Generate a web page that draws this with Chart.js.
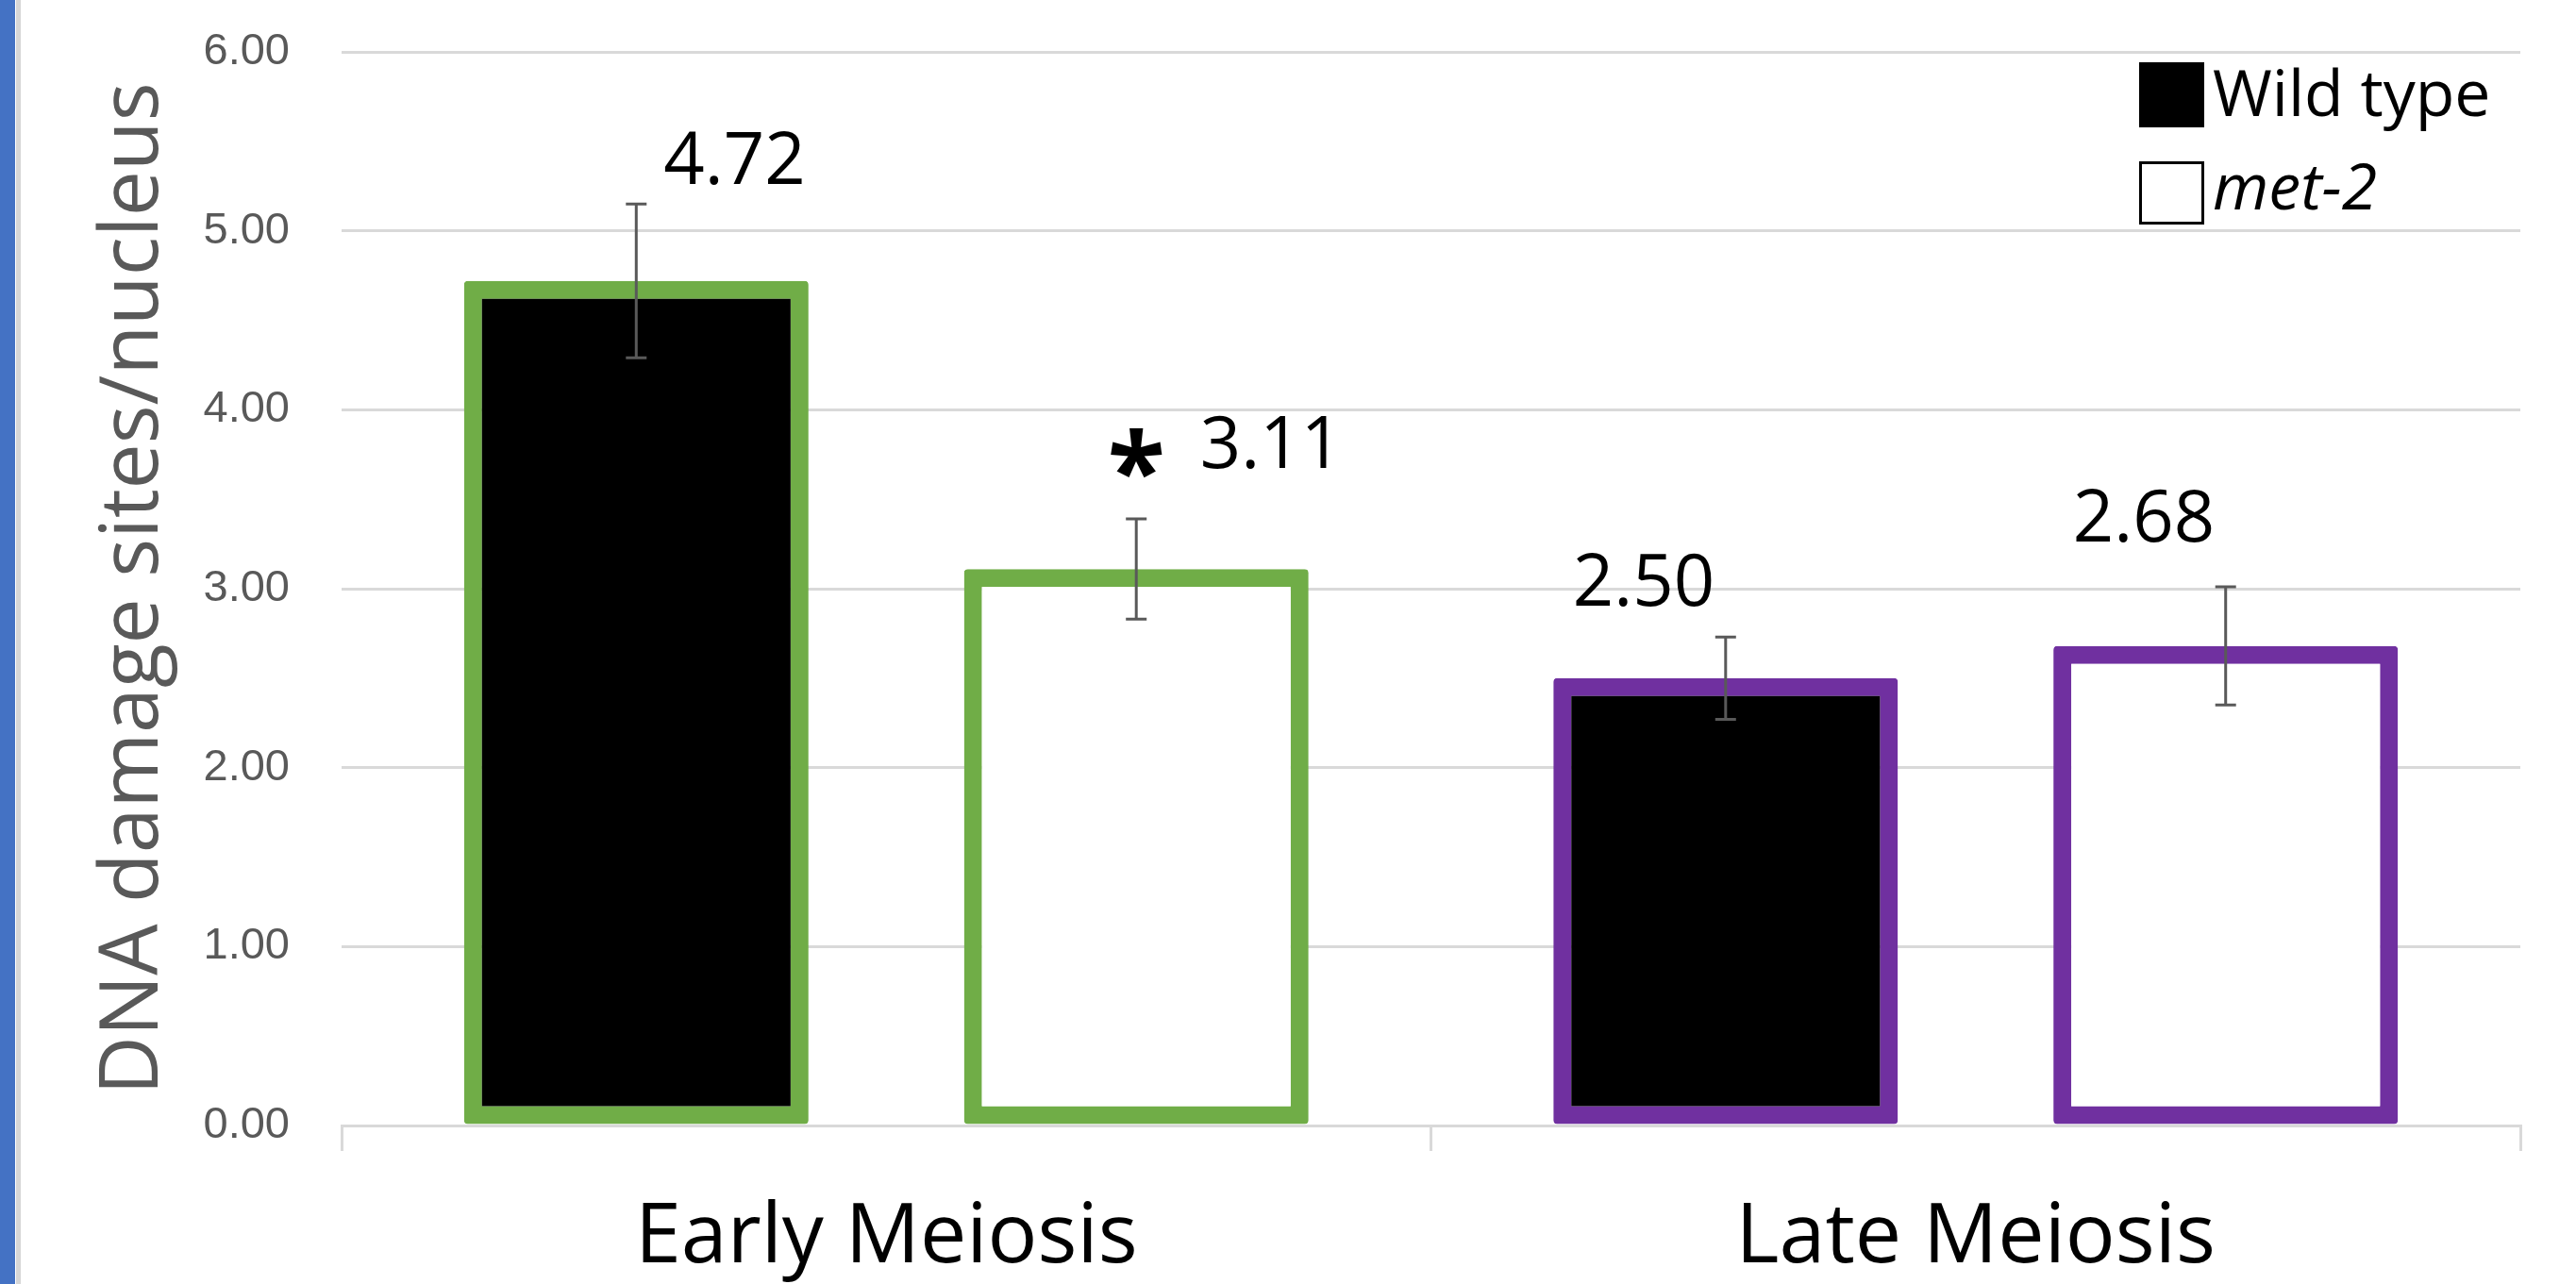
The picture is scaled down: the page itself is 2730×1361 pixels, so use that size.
<!DOCTYPE html>
<html>
<head>
<meta charset="utf-8">
<title>DNA damage sites/nucleus</title>
<script src="https://cdn.jsdelivr.net/npm/chart.js@4.4.1/dist/chart.umd.min.js"></script>
<style>
  html, body { margin: 0; padding: 0; background: #fff; }
  #grafico { display: block; }
</style>
</head>
<body>
<canvas id="grafico" width="2730" height="1361"></canvas>
<script>
// dados
var categorias = ['Early Meiosis', 'Late Meiosis'];
var series = ['Wild type', 'met-2'];
var valoresWildType = [4.72, 2.50];
var valoresMet2 = [3.11, 2.68];
var erroWildType = [0.43, 0.23];
var erroMet2 = [0.28, 0.33];
var asteriscoWildType = ['', ''];
var asteriscoMet2 = ['*', ''];
var ticksY = [0, 1, 2, 3, 4, 5, 6];

// estilo
var coresBorda = ['#70AD47', '#7030A0'];
var estiloLegenda = ['normal', 'italic'];
// deslocamento dos rotulos [serie][categoria] -> [dx, dy] em px
var deslocRotulos = [[[103, -130], [-87, -104]], [[136, -135], [-87, -138]]];
var deslocAsterisco = [0, -123];

function textoCentrado(ctx, texto, cx, cy) {
    var m = ctx.measureText(texto);
    var x = cx - (m.actualBoundingBoxRight - m.actualBoundingBoxLeft) / 2;
    var y = cy - (m.actualBoundingBoxDescent - m.actualBoundingBoxAscent) / 2;
    ctx.fillText(texto, x, y);
}

var fundo = {
    id: 'fundo',
    beforeDraw(chart) {
        var ctx = chart.ctx;
        ctx.save();
        ctx.fillStyle = '#fff';
        ctx.fillRect(0, 0, chart.width, chart.height);
        ctx.fillStyle = '#4472C4';
        ctx.fillRect(0, 0, 16, chart.height);
        ctx.fillStyle = '#d6d6d6';
        ctx.fillRect(17, 0, 5, chart.height);
        ctx.restore();
    }
};

var barrasErro = {
    id: 'barrasErro',
    afterDatasetsDraw(chart) {
        var ctx = chart.ctx;
        var y = chart.scales.y;
        var erros = [erroWildType, erroMet2];
        ctx.save();
        ctx.strokeStyle = '#595959';
        ctx.lineWidth = 3;
        chart.data.datasets.forEach(function (ds, d) {
            chart.getDatasetMeta(d).data.forEach(function (barra, i) {
                var topo = y.getPixelForValue(ds.data[i] + erros[d][i]);
                var base = y.getPixelForValue(ds.data[i] - erros[d][i]);
                ctx.beginPath();
                ctx.moveTo(barra.x, topo);
                ctx.lineTo(barra.x, base);
                ctx.moveTo(barra.x - 11, topo);
                ctx.lineTo(barra.x + 11, topo);
                ctx.moveTo(barra.x - 11, base);
                ctx.lineTo(barra.x + 11, base);
                ctx.stroke();
            });
        });
        ctx.restore();
    }
};

var rotulos = {
    id: 'rotulos',
    afterDatasetsDraw(chart) {
        var ctx = chart.ctx;
        var y = chart.scales.y;
        var asteriscos = [asteriscoWildType, asteriscoMet2];
        ctx.save();
        ctx.fillStyle = '#000';
        ctx.textAlign = 'left';
        ctx.textBaseline = 'alphabetic';
        chart.data.datasets.forEach(function (ds, d) {
            chart.getDatasetMeta(d).data.forEach(function (barra, i) {
                var py = y.getPixelForValue(ds.data[i]);
                var off = deslocRotulos[d][i];
                ctx.font = '76px "Open Sans"';
                textoCentrado(ctx, ds.data[i].toFixed(2), barra.x + off[0], py + off[1]);
                if (asteriscos[d][i]) {
                    ctx.font = 'bold 112px "Open Sans"';
                    textoCentrado(ctx, asteriscos[d][i], barra.x + deslocAsterisco[0], py + deslocAsterisco[1]);
                }
            });
        });
        ctx.restore();
    }
};

var legenda = {
    id: 'legenda',
    afterDraw(chart) {
        var ctx = chart.ctx;
        var area = chart.chartArea;
        var x = area.right - 404;
        ctx.save();
        chart.data.datasets.forEach(function (ds, d) {
            var topo = area.top + 11 + d * 105;
            if (d == 0) {
                ctx.fillStyle = '#000';
                ctx.fillRect(x, topo, 69, 69);
            } else {
                ctx.fillStyle = '#fff';
                ctx.fillRect(x, topo, 69, 67);
                ctx.strokeStyle = '#000';
                ctx.lineWidth = 3;
                ctx.strokeRect(x + 1.5, topo + 1.5, 66, 64);
            }
            ctx.fillStyle = '#000';
            ctx.font = estiloLegenda[d] + ' 68px "Open Sans"';
            ctx.textAlign = 'left';
            ctx.textBaseline = 'alphabetic';
            ctx.fillText(ds.label, x + 78, topo + 57 - d * 6);
        });
        ctx.restore();
    }
};

var ctx = document.getElementById('grafico');

new Chart(ctx, {
    type: 'bar',
    data: {
        labels: categorias,
        datasets: [
            {
                label: series[0],
                data: valoresWildType,
                backgroundColor: '#000000',
                borderColor: coresBorda,
                borderWidth: 19,
                borderSkipped: false,
                borderRadius: 4,
                categoryPercentage: 0.918,
                barPercentage: 0.689
            },
            {
                label: series[1],
                data: valoresMet2,
                backgroundColor: '#ffffff',
                borderColor: coresBorda,
                borderWidth: 19,
                borderSkipped: false,
                borderRadius: 4,
                categoryPercentage: 0.918,
                barPercentage: 0.689
            }
        ]
    },
    options: {
        responsive: false,
        animation: false,
        devicePixelRatio: 1,
        layout: { padding: { top: 55, right: 59, left: 0, bottom: 0 } },
        plugins: {
            legend: { display: false },
            tooltip: { enabled: false }
        },
        scales: {
            x: {
                grid: { drawOnChartArea: false, color: '#d9d9d9', lineWidth: 3, tickLength: 27, offset: true },
                border: { color: '#d9d9d9', width: 3 },
                ticks: { color: '#000', font: { family: 'Open Sans', size: 88 }, padding: 40 },
                afterFit: function (s) { s.height = 168; }
            },
            y: {
                min: 0,
                max: 6,
                afterBuildTicks: function (s) {
                    s.ticks = ticksY.map(function (v) { return { value: v }; });
                },
                grid: { color: '#d9d9d9', lineWidth: 3, drawTicks: false },
                border: { display: false },
                ticks: {
                    color: '#595959',
                    font: { family: 'Liberation Sans', size: 47 },
                    padding: 55,
                    callback: function (v) { return Number(v).toFixed(2); }
                },
                title: {
                    display: true,
                    text: 'DNA damage sites/nucleus',
                    color: '#595959',
                    font: { family: 'Open Sans', size: 86 },
                    padding: { top: 91, bottom: 0 }
                },
                afterFit: function (s) {
                    s.width = 362;
                    s.paddingTop = 0;
                    s.paddingBottom = 0;
                }
            }
        }
    },
    plugins: [fundo, barrasErro, rotulos, legenda]
});
</script>
</body>
</html>
